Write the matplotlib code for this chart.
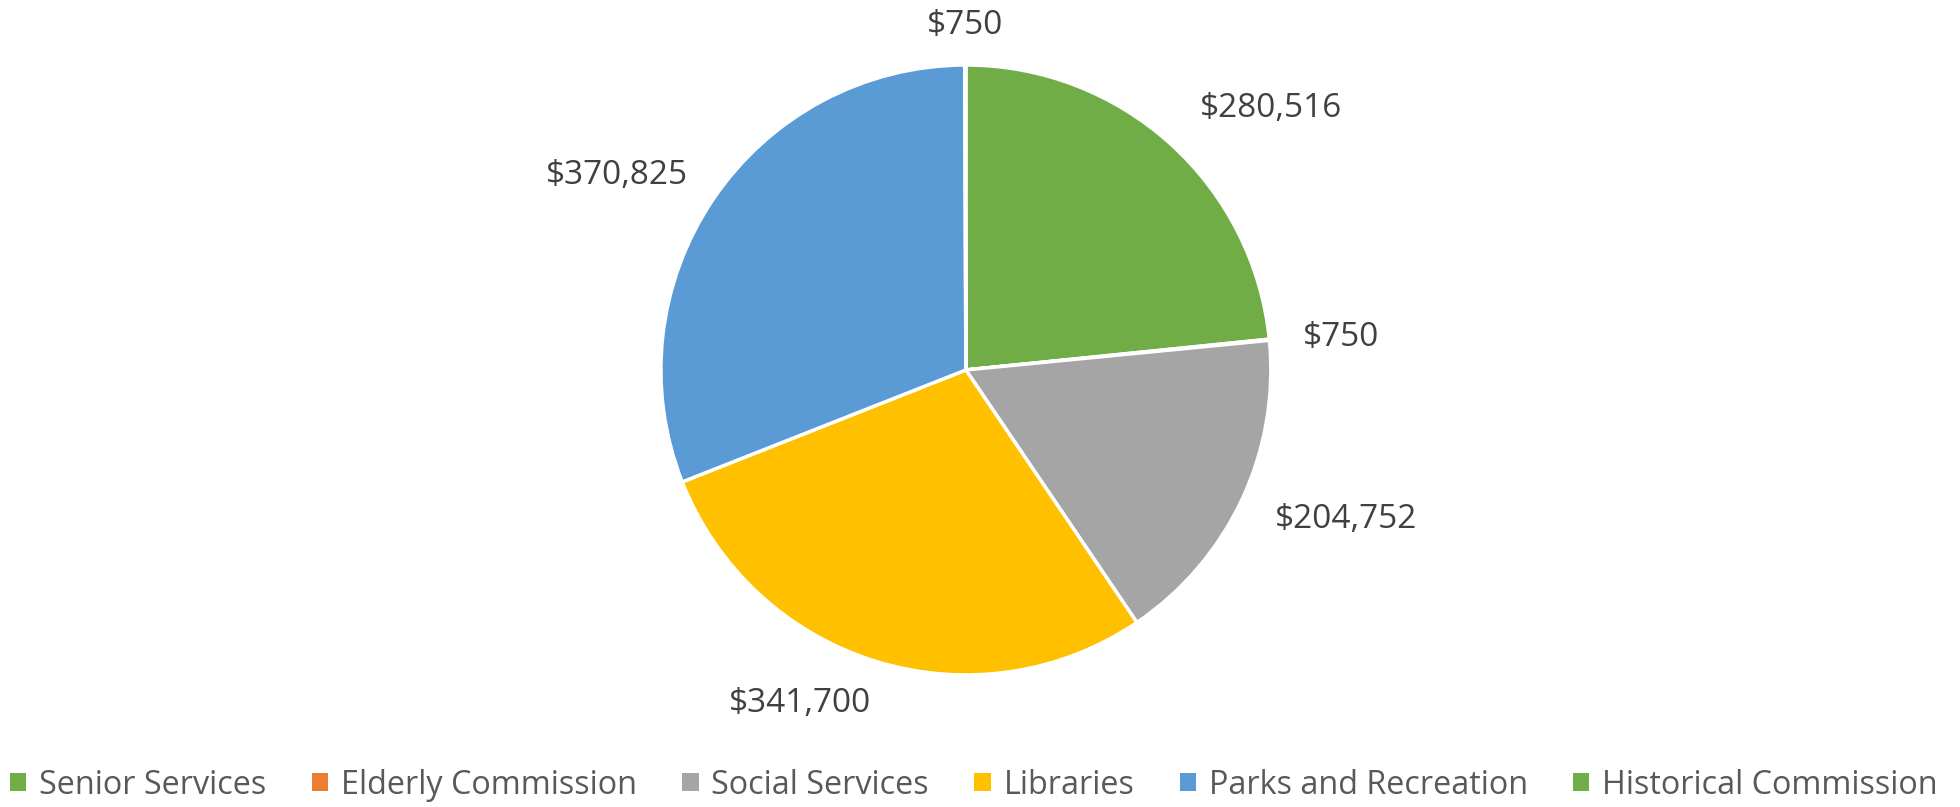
import matplotlib
matplotlib.use("Agg")
import matplotlib.pyplot as plt
import numpy as np
from matplotlib.patches import Patch

categories = ["Senior Services", "Elderly Commission", "Social Services",
              "Libraries", "Parks and Recreation", "Historical Commission"]
values = [280516, 750, 204752, 341700, 370825, 750]
labels = ["$280,516", "$750", "$204,752", "$341,700", "$370,825", "$750"]
colors = ["#70AD47", "#ED7D31", "#A5A5A5", "#FFC000", "#5B9BD5", "#70AD47"]
# label placement (layout): radius factor and angular nudge in degrees
label_r = [1.316, 1.234, 1.34, 1.22, 1.31, 1.13]
label_dang = [-7.3, -0.7, 3.7, -9.3, 5.0, 0.0]

plt.rcParams['font.family'] = ['Open Sans', 'DejaVu Sans']

fig = plt.figure(figsize=(19.6, 8.07), dpi=100)
ax = fig.add_axes([0.3372, 0.1636, 0.3112, 0.7559])
wedges, _ = ax.pie(values, colors=colors, startangle=90, counterclock=False,
                   wedgeprops=dict(edgecolor="white", linewidth=2.5))
ax.set_xlim(-1, 1)
ax.set_ylim(-1, 1)
ax.set_aspect("equal")

for w, lab, rf, da in zip(wedges, labels, label_r, label_dang):
    ang = np.deg2rad((w.theta1 + w.theta2) / 2 + da)
    x, y = rf * np.cos(ang), rf * np.sin(ang)
    ax.text(x, y, lab, ha="center", va="center", fontsize=24, color="#404040",
            clip_on=False)

handles = [Patch(facecolor=c, edgecolor="none") for c in colors]
fig.legend(handles, categories, loc="center", bbox_to_anchor=(0.497, 0.027),
           ncol=6, frameon=False, fontsize=23.3, labelcolor="#595959",
           handlelength=0.5, handleheight=0.5, handletextpad=0.4,
           columnspacing=1.4, borderpad=0)

fig.savefig("out.png", dpi=100)
